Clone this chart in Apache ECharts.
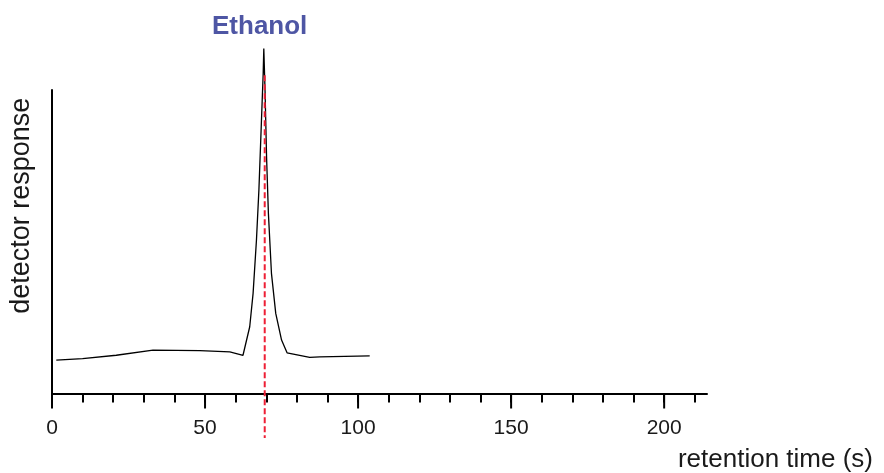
<!DOCTYPE html>
<html>
<head>
<meta charset="utf-8">
<script src="https://cdn.jsdelivr.net/npm/echarts@6/dist/echarts.min.js"></script>
<style>
  html, body { margin: 0; padding: 0; background: #fff; }
  #container { width: 884px; height: 473px; }
</style>
</head>
<body>
<div id="container"></div>
<script>
// chromatogram trace: [retention time (s), detector response]
var tracePoints = [
  [1.4, 11.0], [10.0, 11.5], [21.0, 12.6], [33.0, 14.3], [48.3, 14.1],
  [58.1, 13.7], [62.4, 12.6], [63.0, 12.4], [64.6, 22.0], [65.7, 33.0],
  [66.8, 50.6], [67.6, 67.1], [68.4, 89.0], [69.0, 105.5], [69.2, 113.7],
  [69.6, 100.0], [70.1, 78.0], [70.7, 59.4], [71.7, 39.6], [73.1, 26.4],
  [75.0, 17.6], [76.8, 13.4], [84.2, 11.9], [87.5, 12.1], [103.8, 12.4]
];
// ethanol retention marker
var markerLine = [[69.5, 104.9], [69.5, -14.7]];
var minorTickValues = [0, 10, 20, 30, 40, 50, 60, 70, 80, 90, 100, 110, 120, 130, 140, 150, 160, 170, 180, 190, 200, 210];
var majorTickValues = [0, 50, 100, 150, 200];
var tickLabels = [0, 50, 100, 150, 200];

var font = 'Liberation Sans, Arial, sans-serif';
var dom = document.getElementById('container');
var myChart = echarts.init(dom, null, { renderer: 'canvas' });

// longer ticks at the labelled values, placed with the axis scale
function renderMajorTick(params, api) {
  var p = api.coord([api.value(0), api.value(1)]);
  return {
    type: 'line',
    shape: { x1: p[0], y1: p[1], x2: p[0], y2: p[1] + 15 },
    style: { stroke: '#000', lineWidth: 2 }
  };
}

var option = {
  animation: false,
  title: {
    text: 'Ethanol',
    left: 212,
    top: 14,
    padding: 0,
    textStyle: { color: '#4e56a4', fontSize: 26, fontWeight: 'bold', fontFamily: font }
  },
  grid: { left: 52, right: 177, top: 90, bottom: 79.5, outerBoundsMode: 'none', containLabel: false },
  xAxis: {
    type: 'value',
    min: 0,
    max: 214,
    name: 'retention time (s)',
    nameLocation: 'end',
    nameGap: 166,
    nameTextStyle: {
      color: '#1a1a1a', fontSize: 26, fontFamily: font,
      align: 'right', verticalAlign: 'top', padding: [53, 0, 0, 0]
    },
    axisLine: { show: true, onZero: false, lineStyle: { color: '#000', width: 2 } },
    axisTick: { show: true, customValues: minorTickValues, length: 9, lineStyle: { color: '#000', width: 2 } },
    axisLabel: {
      customValues: tickLabels, margin: 24,
      color: '#1a1a1a', fontSize: 21, fontFamily: font
    },
    splitLine: { show: false }
  },
  yAxis: {
    type: 'value',
    min: 0,
    max: 100,
    name: 'detector response',
    nameLocation: 'middle',
    nameGap: 17,
    nameTextStyle: { color: '#1a1a1a', fontSize: 27, fontFamily: font, padding: [0, 0, 0, 72] },
    axisLine: { show: true, onZero: false, lineStyle: { color: '#000', width: 2 } },
    axisTick: { show: false },
    axisLabel: { show: false },
    splitLine: { show: false }
  },
  series: [{
    name: 'trace',
    type: 'line',
    data: tracePoints,
    clip: false,
    showSymbol: false,
    symbol: 'none',
    lineStyle: { color: '#000', width: 1.3 }
  }, {
    name: 'Ethanol',
    type: 'line',
    data: markerLine,
    clip: false,
    symbol: 'none',
    lineStyle: { color: '#ee1f35', width: 2, type: [6, 3] },
    z: 3
  }, {
    name: 'major ticks',
    type: 'custom',
    data: majorTickValues.map(function (v) { return [v, 0]; }),
    encode: { x: 0, y: 1 },
    clip: false,
    silent: true,
    renderItem: renderMajorTick,
    z: 5
  }]
};

myChart.setOption(option);
window.addEventListener('resize', myChart.resize);
</script>
</body>
</html>
